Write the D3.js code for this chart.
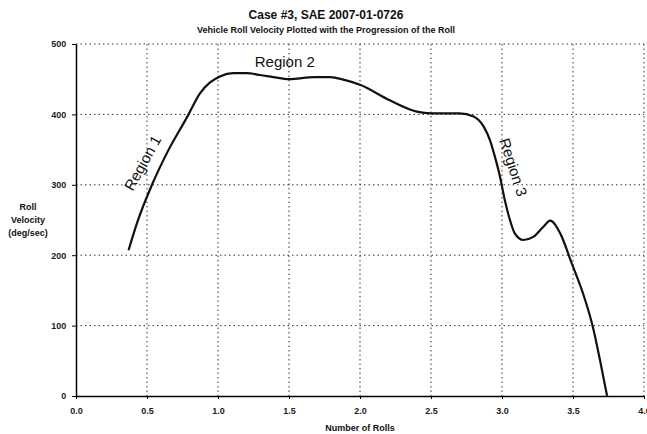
<!DOCTYPE html>
<html>
<head>
<meta charset="utf-8">
<script src="https://cdn.jsdelivr.net/npm/d3@7"></script>
<style>
  body { margin: 0; background: #fff; }
  svg { display: block; font-family: "Liberation Sans", Arial, sans-serif; }
</style>
</head>
<body>
<svg id="chart" width="647" height="434"></svg>
<script>
// Roll velocity (deg/sec) against number of rolls
const rolls = [0.37, 0.43, 0.535, 0.64, 0.79, 0.873, 0.944, 1.014, 1.108, 1.2, 1.296, 1.39, 1.5, 1.68, 1.79, 1.89, 2.0, 2.21, 2.4, 2.5, 2.7, 2.8, 2.87, 2.915, 2.95, 2.986, 3.02, 3.056, 3.09, 3.15, 3.22, 3.29, 3.34, 3.41, 3.49, 3.57, 3.64, 3.69, 3.74];
const velocity = [207, 246, 300, 345, 399, 430, 445.5, 454, 458.5, 458.5, 456, 453, 450, 453, 453, 449, 442, 420, 404, 401.5, 401.5, 397, 383, 363.6, 340, 311.5, 278, 250, 231, 221.6, 226, 240, 249, 231, 189, 146, 98, 51, 0];
const xTicks = [0, 0.5, 1, 1.5, 2, 2.5, 3, 3.5, 4];
const yTicks = [0, 100, 200, 300, 400, 500];
const regionLabels = ["Region 1", "Region 2", "Region 3"];

const svg = d3.select("#chart");
const x = d3.scaleLinear().domain([0, 4]).range([76, 644]);
const y = d3.scaleLinear().domain([0, 500]).range([396, 44]);

// Dotted grid
svg.append("g").selectAll("line").data(xTicks.slice(1)).join("line")
  .attr("x1", d => x(d)).attr("x2", d => x(d))
  .attr("y1", y(500)).attr("y2", y(0))
  .attr("stroke", "#333").attr("stroke-width", 1).attr("stroke-dasharray", "1.5,3");
svg.append("g").selectAll("line").data(yTicks.slice(1)).join("line")
  .attr("x1", x(0)).attr("x2", x(4))
  .attr("y1", d => y(d)).attr("y2", d => y(d))
  .attr("stroke", "#333").attr("stroke-width", 1).attr("stroke-dasharray", "1.5,3");

// Axes
const xAxis = svg.append("g").attr("transform", `translate(0,${y(0)})`)
  .call(d3.axisBottom(x).tickValues(xTicks).tickFormat(d3.format(".1f")).tickSize(3).tickSizeOuter(0));
const yAxis = svg.append("g").attr("transform", `translate(${x(0)},0)`)
  .call(d3.axisLeft(y).tickValues(yTicks).tickFormat(d3.format("d")).tickSize(4).tickSizeOuter(0));
[xAxis, yAxis].forEach(g => {
  g.select(".domain").attr("stroke", "#000").attr("stroke-width", 1.5);
  g.selectAll(".tick line").attr("stroke", "#000");
  g.selectAll(".tick text").attr("font-family", "Liberation Sans, Arial, sans-serif")
    .attr("font-size", 9).attr("font-weight", "bold").attr("fill", "#222");
});
xAxis.selectAll(".tick text").attr("dy", "1.3em");
yAxis.selectAll(".tick text").attr("dx", "-0.3em");

// Data curve
const line = d3.line().x((d, i) => x(rolls[i])).y(d => y(d)).curve(d3.curveMonotoneX);
svg.append("path").datum(velocity).attr("d", line)
  .attr("fill", "none").attr("stroke", "#111").attr("stroke-width", 2.2);

// Titles
svg.append("text").attr("x", 326).attr("y", 19).attr("text-anchor", "middle")
  .attr("font-size", 12).attr("font-weight", "bold").attr("fill", "#111").text("Case #3, SAE 2007-01-0726");
svg.append("text").attr("x", 326).attr("y", 33).attr("text-anchor", "middle")
  .attr("font-size", 9).attr("font-weight", "bold").attr("fill", "#111").text("Vehicle Roll Velocity Plotted with the Progression of the Roll");
svg.append("text").attr("x", 360).attr("y", 431).attr("text-anchor", "middle")
  .attr("font-size", 9).attr("font-weight", "bold").attr("fill", "#111").text("Number of Rolls");
const yl = svg.append("text").attr("text-anchor", "middle").attr("font-size", 9).attr("font-weight", "bold").attr("fill", "#111");
["Roll", "Velocity", "(deg/sec)"].forEach((t, i) => yl.append("tspan").attr("x", 28).attr("y", 210 + i * 13).text(t));

// Region annotations
const reg = [
  { label: regionLabels[0], cx: x(0.47), cy: y(331), rot: -61 },
  { label: regionLabels[1], cx: x(1.47), cy: y(475), rot: 0 },
  { label: regionLabels[2], cx: x(3.08), cy: y(325), rot: 72 }
];
svg.append("g").selectAll("text").data(reg).join("text")
  .attr("transform", d => `translate(${d.cx},${d.cy}) rotate(${d.rot})`)
  .attr("text-anchor", "middle").attr("dy", "0.35em")
  .attr("font-size", 15).attr("fill", "#111").text(d => d.label);
</script>
</body>
</html>
